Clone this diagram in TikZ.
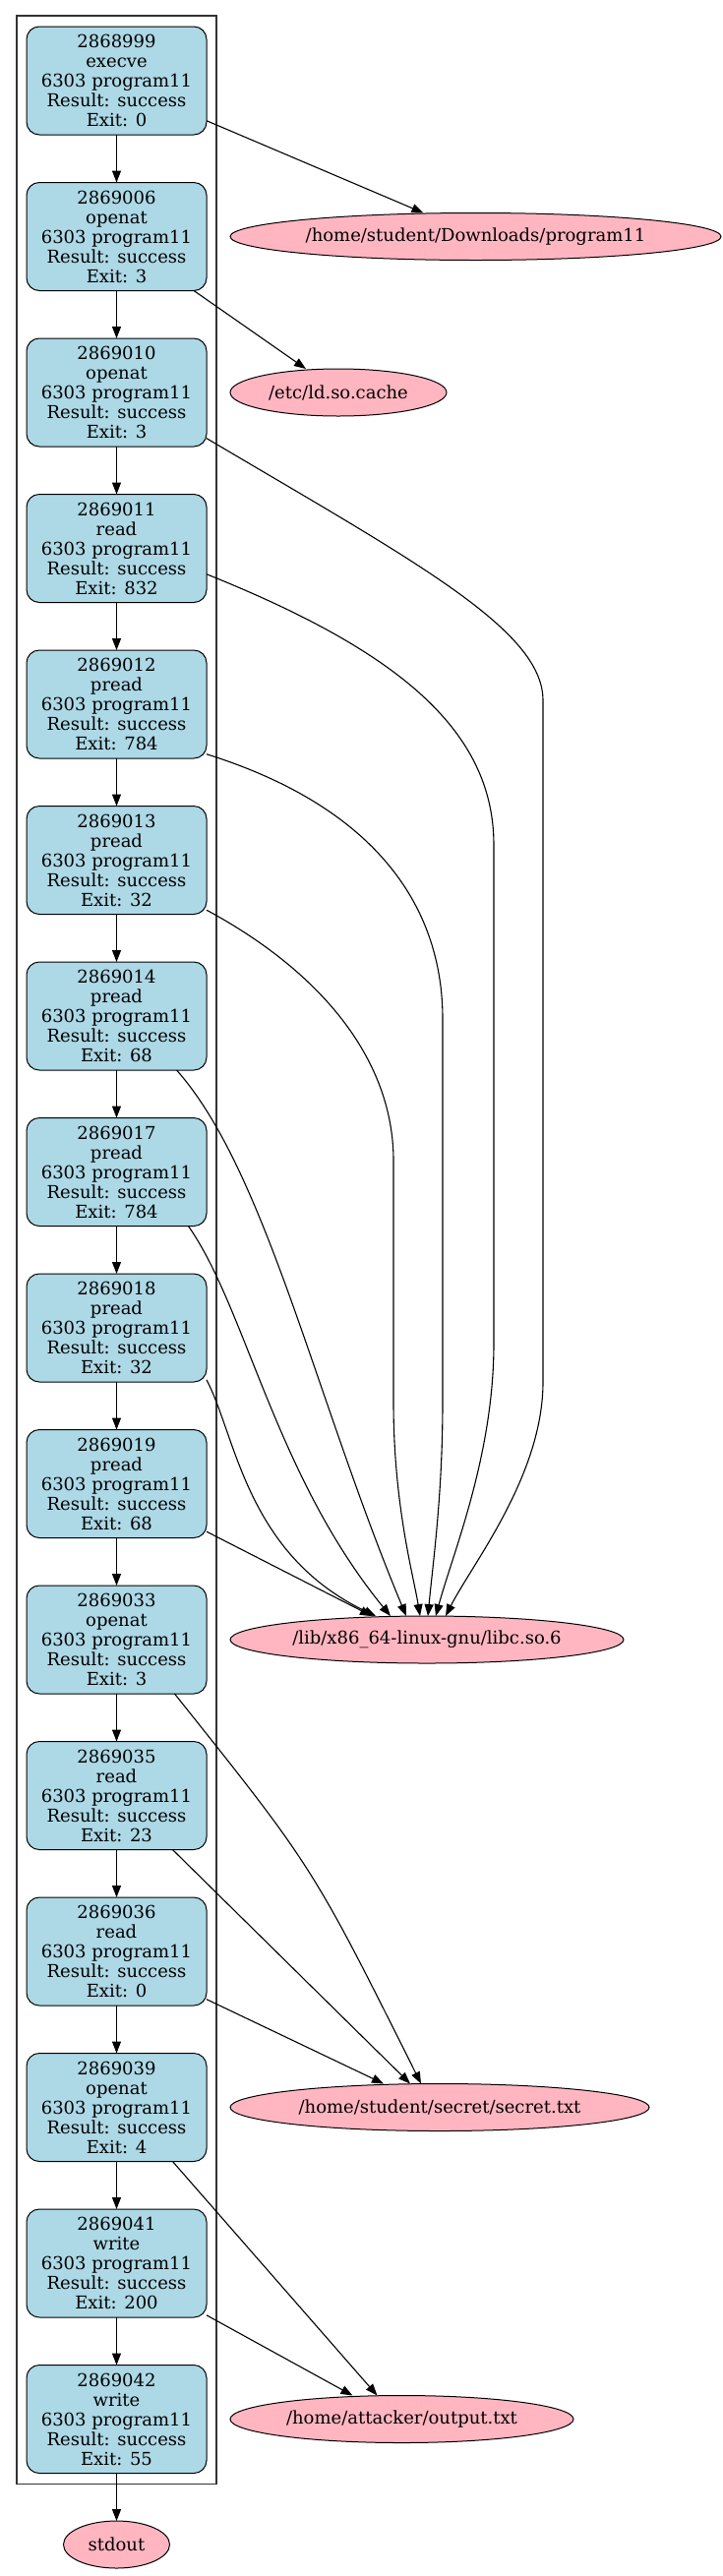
\documentclass[tikz,border=0pt]{standalone}
\usepackage{fontspec}
\usepackage{tikz}
\usetikzlibrary{positioning,arrows.meta,shapes.geometric,fit}
\newfontfamily\dvserif{DejaVu Serif}
\definecolor{callclr}{RGB}{173,216,230}
\definecolor{fileclr}{RGB}{255,182,193}
\tikzset{
  call/.style={rectangle,draw=black,line width=1pt,fill=callclr,rounded corners=13pt,
               minimum width=183pt,minimum height=110pt,inner sep=2pt,outer sep=0pt,
               align=center},
  file/.style={ellipse,draw=black,line width=1pt,fill=fileclr,minimum height=48pt,
               inner sep=0pt,outer sep=0pt},
  edge/.style={-{Triangle[length=12pt,width=9pt]},line width=1.1pt},
  cluster/.style={draw=black!80,line width=1.2pt,inner xsep=10pt,inner ysep=11pt},
}
\newcommand{\sysc}[3]{#1\\#2\\6303 program11\\Result: success\\Exit: #3}

\begin{document}
\begin{tikzpicture}[x=1pt,y=-1pt,node distance=48.5pt and 24pt,
                    font=\dvserif\fontsize{18pt}{20pt}\selectfont]
\useasboundingbox (0,0) rectangle (735,2619);
\node[call] (b1) at (118.5,82) {\sysc{2868999}{execve}{0}};
\node[call,below=of b1] (b2) {\sysc{2869006}{openat}{3}};
\node[call,below=of b2] (b3) {\sysc{2869010}{openat}{3}};
\node[call,below=of b3] (b4) {\sysc{2869011}{read}{832}};
\node[call,below=of b4] (b5) {\sysc{2869012}{pread}{784}};
\node[call,below=of b5] (b6) {\sysc{2869013}{pread}{32}};
\node[call,below=of b6] (b7) {\sysc{2869014}{pread}{68}};
\node[call,below=of b7] (b8) {\sysc{2869017}{pread}{784}};
\node[call,below=of b8] (b9) {\sysc{2869018}{pread}{32}};
\node[call,below=of b9] (b10) {\sysc{2869019}{pread}{68}};
\node[call,below=of b10] (b11) {\sysc{2869033}{openat}{3}};
\node[call,below=of b11] (b12) {\sysc{2869035}{read}{23}};
\node[call,below=of b12] (b13) {\sysc{2869036}{read}{0}};
\node[call,below=of b13] (b14) {\sysc{2869039}{openat}{4}};
\node[call,below=of b14] (b15) {\sysc{2869041}{write}{200}};
\node[call,below=of b15] (b16) {\sysc{2869042}{write}{55}};
\node[cluster,fit=(b1)(b16)] (proc) {};
% files touched by the process
\node[file,minimum width=499pt,right=of b2] (dl) {/home/student/Downloads/program11};
\node[file,minimum width=220pt,right=of b3] (ldc) {/etc/ld.so.cache};
\node[file,minimum width=400pt,right=of b11] (libc) {/lib/x86\_64-linux-gnu/libc.so.6};
\node[file,minimum width=426pt,right=of b14] (secret) {/home/student/secret/secret.txt};
\node[file,minimum width=349pt,right=of b16] (outf) {/home/attacker/output.txt};
\node[file,minimum width=108pt,below=of b16] (stdout) {stdout};
% call sequence
\draw[edge] (b1) -- (b2); \draw[edge] (b2) -- (b3); \draw[edge] (b3) -- (b4);
\draw[edge] (b4) -- (b5); \draw[edge] (b5) -- (b6); \draw[edge] (b6) -- (b7);
\draw[edge] (b7) -- (b8); \draw[edge] (b8) -- (b9); \draw[edge] (b9) -- (b10);
\draw[edge] (b10) -- (b11); \draw[edge] (b11) -- (b12); \draw[edge] (b12) -- (b13);
\draw[edge] (b13) -- (b14); \draw[edge] (b14) -- (b15); \draw[edge] (b15) -- (b16);
\draw[edge] (b16) -- (stdout);
% file accesses
\draw[edge] (b1.-24) -- ([xshift=-53pt]dl.north);
\draw[edge] (b2.-35) -- ([xshift=-33pt]ldc.north);
\draw[edge] (b3.-27) .. controls (420,570) and (552,640) .. (552,712)
  -- (552,1405) .. controls (552,1500) and (480,1590) .. ([xshift=19pt]libc.north);
\draw[edge] (b4.-16) .. controls (400,660) and (502,740) .. (502,859)
  -- (502,1366) .. controls (502,1480) and (460,1580) .. ([xshift=9pt]libc.north);
\draw[edge] (b5.-29) .. controls (380,820) and (450,920) .. (450,1036)
  -- (450,1425) .. controls (450,1520) and (440,1590) .. ([xshift=1pt]libc.north);
\draw[edge] (b6.-29) .. controls (330,990) and (400,1080) .. (400,1180)
  -- (400,1425) .. controls (400,1530) and (420,1600) .. ([xshift=-7pt]libc.north);
\draw[edge] (b7.-42) .. controls (270,1190) and (320,1420) .. ([xshift=-21pt]libc.north);
\draw[edge] (b8.-37) .. controls (250,1330) and (280,1500) .. ([xshift=-37pt]libc.north);
\draw[edge] (b9.-30) .. controls (240,1460) and (250,1580) .. ([xshift=-52pt]libc.north);
\draw[edge] (b10.-28) -- ([xshift=-56pt]libc.north);
\draw[edge] (b11.-43) .. controls (318,1898) .. ([xshift=-19pt]secret.north);
\draw[edge] (b12.-44) -- ([xshift=-30pt]secret.north);
\draw[edge] (b13.-28) -- ([xshift=-57pt]secret.north);
\draw[edge] (b14.-44) -- ([xshift=-25pt]outf.north);
\draw[edge] (b15.-30) -- ([xshift=-50pt]outf.north);
\end{tikzpicture}
\end{document}
